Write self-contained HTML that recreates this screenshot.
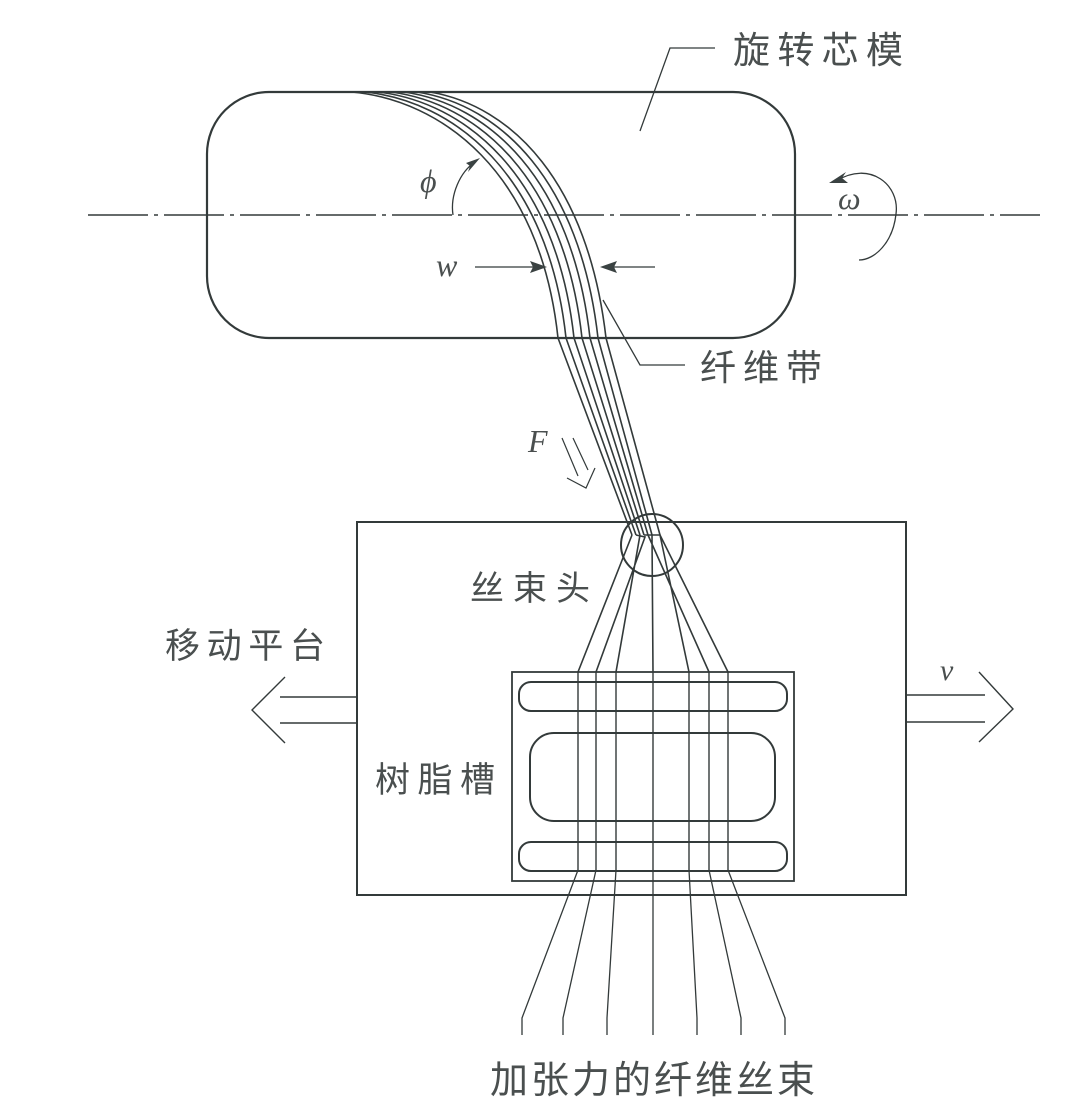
<!DOCTYPE html>
<html><head><meta charset="utf-8"><style>
html,body{margin:0;padding:0;background:#fff;}
svg{display:block;}
text{font-family:"Liberation Sans","Noto Sans CJK SC",sans-serif;fill:#4a4f4f;}
text.m{font-family:"Liberation Serif",serif;font-style:italic;}
</style></head><body>
<svg width="1080" height="1113" viewBox="0 0 1080 1113" xmlns="http://www.w3.org/2000/svg">
<g fill="none" stroke="#333a3a" stroke-width="1.6">
<rect x="207" y="92" width="588" height="246" rx="62" ry="62" stroke-width="2.2"/>
<line x1="88" y1="215" x2="1040" y2="215" stroke-width="1.4" stroke-dasharray="60,6,4,6"/>
<path d="M352,92 C440,100 540,170 558,338 L632,535"/>
<path d="M365,92 C452,101 548,172 566,338 L636,535"/>
<path d="M378,92 C464,102 556,174 574,338 L640,535"/>
<path d="M391,92 C476,103 564,176 582,338 L644,535"/>
<path d="M404,92 C488,104 572,178 590,338 L648,535"/>
<path d="M417,92 C500,105 580,180 598,338 L652,535"/>
<path d="M430,92 C512,106 588,182 606,338 L660,535"/>
<polyline points="640,131 670,48 715,48" stroke-width="1.3"/>
<polyline points="603,300 640,365 685,365" stroke-width="1.3"/>
<line x1="475" y1="267" x2="535" y2="267" stroke-width="1.3"/>
<line x1="612" y1="267" x2="655" y2="267" stroke-width="1.3"/>
<path d="M453,215 C450,195 460,172 475,162" stroke-width="1.3"/>
<path d="M836,181 C870,160 900,185 896,214 C893,242 875,260 859,260" stroke-width="1.3"/>
<line x1="562" y1="438" x2="578" y2="476" stroke-width="1.2"/>
<line x1="573" y1="438" x2="588" y2="470" stroke-width="1.2"/>
<polyline points="567,478 586,488 595,468" stroke-width="1.2"/>
<rect x="357" y="522" width="549" height="373" stroke-width="2"/>
<circle cx="652" cy="545" r="31" stroke-width="2"/>
<path d="M632,535 L578,672 M636,535 L645,537 L596,672 M640,535 L616,672 M652,535 L653,672 M644,535 L660,535 L689,672 M648,535 L709,672 M660,535 L728,672"/>
<rect x="512" y="672" width="282" height="209" stroke-width="1.8"/>
<rect x="519" y="682" width="268" height="29" rx="12" stroke-width="2"/>
<rect x="530" y="733" width="245" height="88" rx="24" stroke-width="2"/>
<rect x="519" y="842" width="268" height="29" rx="12" stroke-width="2"/>
<path d="M578,672 V870 M596,672 V870 M616,672 V870 M653,672 V870 M689,672 V870 M709,672 V870 M728,672 V870" stroke-width="1.4"/>
<path d="M578,870 L522,1018 V1035 M596,870 L563,1018 V1035 M616,870 L607,1018 V1035 M653,870 V1035 M689,870 L697,1018 V1035 M709,870 L741,1018 V1035 M728,870 L785,1018 V1035" stroke-width="1.3"/>
<line x1="357" y1="697" x2="280" y2="697" stroke-width="1.4"/>
<line x1="357" y1="723" x2="280" y2="723" stroke-width="1.4"/>
<polyline points="285,677 252,710 285,743" stroke-width="1.4"/>
<line x1="906" y1="695" x2="985" y2="695" stroke-width="1.4"/>
<line x1="906" y1="722" x2="985" y2="722" stroke-width="1.4"/>
<polyline points="979,672 1013,709 979,742" stroke-width="1.4"/>
</g>
<g fill="#3a4242" stroke="none">
<polygon points="547,267 530,261 533,267 530,273"/>
<polygon points="600,267 617,261 614,267 617,273"/>
<polygon points="480,158 466,163 470,166 468,172"/>
<polygon points="829,183 846,172 842,178 848,183"/>
</g>
<text x="733" y="63" font-size="37" textLength="170">旋转芯模</text>
<text x="700" y="380" font-size="36" textLength="122">纤维带</text>
<text x="470" y="600" font-size="34" textLength="120">丝束头</text>
<text x="165" y="658" font-size="35" textLength="160">移动平台</text>
<text x="375" y="792" font-size="35" textLength="120">树脂槽</text>
<text x="490" y="1093" font-size="38" textLength="325">加张力的纤维丝束</text>
<text class="m" x="420" y="192" font-size="32">ϕ</text>
<text class="m" x="436" y="276" font-size="32">w</text>
<text class="m" x="838" y="209" font-size="32">ω</text>
<text class="m" x="528" y="452" font-size="32">F</text>
<text class="m" x="940" y="680" font-size="30">v</text>
</svg>
</body></html>
